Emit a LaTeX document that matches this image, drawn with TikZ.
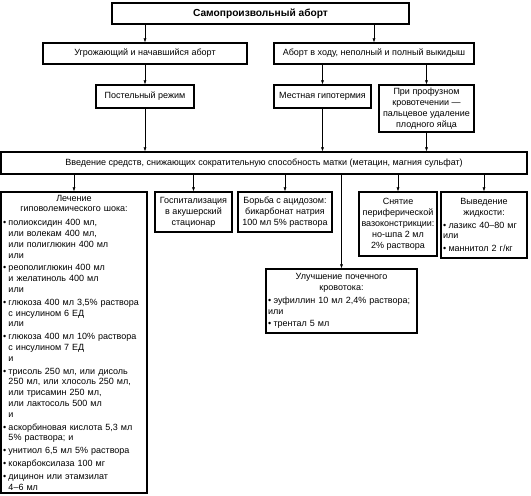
\documentclass[tikz,border=0pt]{standalone}
\usepackage{fontspec}
\setmainfont{Liberation Sans}
\usetikzlibrary{arrows.meta}
\newcommand{\fs}{\fontsize{9}{10.9}\selectfont}
\newcommand{\ctr}[1]{\makebox[\linewidth][c]{#1}}
\newcommand{\bl}{\makebox[5.5pt][l]{•}}
\newcommand{\ind}{\hspace*{5.5pt}}
\begin{document}
\begin{tikzpicture}[x=1pt,y=-1pt,
  box/.style={draw, line width=1.1pt, inner sep=1.5pt, align=center, font=\fs},
  arr/.style={line width=0.55pt, -{Latex[length=4pt,width=3pt]}}]
\useasboundingbox (0,0) rectangle (531,496);

\node[box, line width=1.4pt, minimum width=297pt, minimum height=21pt, font=\fontsize{10.2}{12}\selectfont\bfseries] (top) at (260.5,13.5) {Самопроизвольный аборт};
\node[box, minimum width=204pt, minimum height=21pt] (thr) at (145,53.5) {Угрожающий и начавшийся аборт};
\node[box, minimum width=200pt, minimum height=21pt] (inp) at (374,53.5) {Аборт в ходу, неполный и полный выкидыш};
\node[box, minimum width=98pt, minimum height=23pt] (bed) at (145,96.5) {Постельный режим};
\node[box, minimum width=97pt, minimum height=23pt] (hyp) at (322.5,96.5) {Местная гипотермия};
\node[box, minimum width=95pt, minimum height=47pt] (prof) at (426.5,108.5) {При профузном\\кровотечении —\\пальцевое удаление\\плодного яйца};
\node[box, minimum width=526pt, minimum height=22pt] (long) at (264,163) {Введение средств, снижающих сократительную способность матки (метацин, магния сульфат)};

\node[box, minimum width=146pt, minimum height=301pt, text width=142pt, align=left, font=\fontsize{9}{10.8}\selectfont] (lech) at (74,342.5) {%
\ctr{Лечение}\\
\ctr{гиповолемического шока:}\\[3pt]
\bl полиоксидин 400 мл,\\
\ind или волекам 400 мл,\\
\ind или полиглюкин 400 мл\\
\ind или\\[2pt]
\bl реополиглюкин 400 мл\\
\ind и желатиноль 400 мл\\
\ind или\\[2pt]
\bl глюкоза 400 мл 3,5\% раствора\\
\ind с инсулином 6 ЕД\\
\ind или\\[2pt]
\bl глюкоза 400 мл 10\% раствора\\
\ind с инсулином 7 ЕД\\
\ind и\\[2pt]
\bl трисоль 250 мл, или дисоль\\
\ind 250 мл, или хлосоль 250 мл,\\
\ind или трисамин 250 мл,\\
\ind или лактосоль 500 мл\\
\ind и\\[2pt]
\bl аскорбиновая кислота 5,3 мл\\
\ind 5\% раствора; и\\[2pt]
\bl унитиол 6,5 мл 5\% раствора\\[2pt]
\bl кокарбоксилаза 100 мг\\[2pt]
\bl дицинон или этамзилат\\
\ind 4–6 мл};

\node[box, minimum width=77pt, minimum height=40pt] (hosp) at (193.5,212) {Госпитализация\\в акушерский\\стационар};
\node[box, minimum width=94pt, minimum height=40pt] (acid) at (285,212) {Борьба с ацидозом:\\бикарбонат натрия\\100 мл 5\% раствора};
\node[box, minimum width=78pt, minimum height=64pt, inner sep=0.5pt] (sny) at (398,224) {Снятие\\периферической\\вазоконстрикции:\\но-шпа 2 мл\\2\% раствора};
\node[box, minimum width=86pt, minimum height=66pt, text width=82pt, align=left] (vyv) at (484,225) {%
\ctr{Выведение}\\
\ctr{жидкости:}\\[2pt]
\bl лазикс 40–80 мг\\
или\\[2pt]
\bl маннитол 2 г/кг};
\node[box, minimum width=151pt, minimum height=64pt, text width=147pt, align=left] (kid) at (341.5,301) {%
\ctr{Улучшение почечного}\\
\ctr{кровотока:}\\[2pt]
\bl эуфиллин 10 мл 2,4\% раствора;\\
или\\[2pt]
\bl трентал 5 мл};

\draw[arr] (top.south -| thr.north) -- (thr.north);
\draw[arr] (top.south -| inp.north) -- (inp.north);
\draw[arr] (thr.south -| bed.north) -- (bed.north);
\draw[arr] (inp.south -| hyp.north) -- (hyp.north);
\draw[arr] (inp.south -| prof.north) -- (prof.north);
\draw[arr] (bed.south) -- (long.north -| bed.south);
\draw[arr] (hyp.south) -- (long.north -| hyp.south);
\draw[arr] (prof.south) -- (long.north -| prof.south);
\draw[arr] (long.south -| lech.north) -- (lech.north);
\draw[arr] (long.south -| hosp.north) -- (hosp.north);
\draw[arr] (long.south -| acid.north) -- (acid.north);
\draw[arr] (long.south -| kid.north) -- (kid.north);
\draw[arr] (long.south -| sny.north) -- (sny.north);
\draw[arr] (long.south -| vyv.north) -- (vyv.north);
\end{tikzpicture}
\end{document}
